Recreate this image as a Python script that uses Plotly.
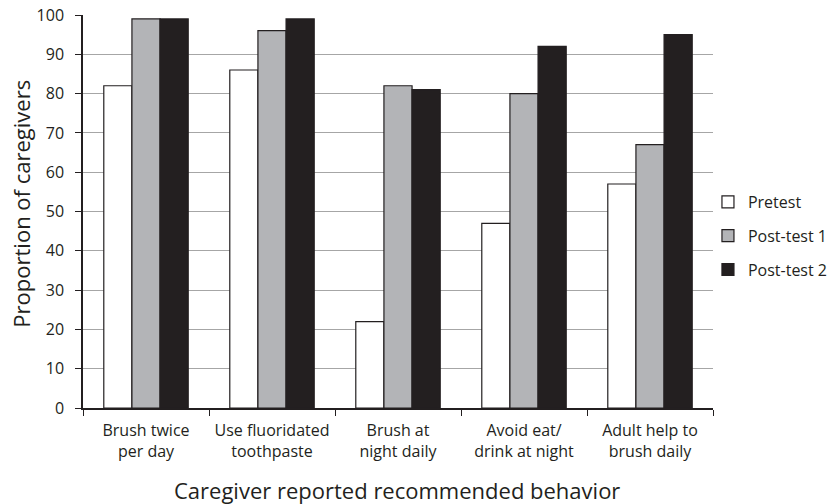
import plotly.graph_objects as go

categories = ["Brush twice<br>per day", "Use fluoridated<br>toothpaste", "Brush at<br>night daily",
              "Avoid eat/<br>drink at night", "Adult help to<br>brush daily"]
pretest = [82, 86, 22, 47, 57]
post1 = [99, 96, 82, 80, 67]
post2 = [99, 99, 81, 92, 95]
y_ticks = [0, 10, 20, 30, 40, 50, 60, 70, 80, 90, 100]

fig = go.Figure()
for name, vals, col in [("Pretest", pretest, "#ffffff"),
                        ("Post-test 1", post1, "#b3b4b7"),
                        ("Post-test 2", post2, "#231f20")]:
    fig.add_trace(go.Bar(x=categories, y=vals, name=name, legendgroup=name,
                         marker=dict(color=col, line=dict(color="#231f20", width=1.2))))

font_main = "'Open Sans', sans-serif"
fig.update_layout(
    width=830, height=504,
    margin=dict(l=83, r=117, t=15, b=96, autoexpand=False),
    plot_bgcolor="white", paper_bgcolor="white",
    barmode="group", bargap=0.33, bargroupgap=0,
    font=dict(family=font_main, color="#231f20", size=16),
    showlegend=True,
    legend=dict(x=0.992, y=0.4377, xanchor="left", yanchor="middle",
                font=dict(size=16), tracegroupgap=10, itemwidth=30,
                bgcolor="rgba(0,0,0,0)"),
    xaxis=dict(showline=True, linecolor="#231f20", linewidth=1.5, automargin=False,
               ticks="outside", tickson="boundaries", ticklen=6, tickcolor="#231f20",
               ticklabelstandoff=7, ticklabeloverflow="allow",
               tickfont=dict(size=16)),
    yaxis=dict(range=[0, 100], tickvals=y_ticks, showline=True, linecolor="#231f20", linewidth=1.5,
               automargin=False,
               ticks="outside", ticklen=6, tickcolor="#231f20", ticklabelstandoff=8,
               ticklabeloverflow="allow",
               showgrid=True, gridcolor="#a6a6a6", gridwidth=1,
               tickfont=dict(size=16)),
    annotations=[
        dict(text="Caregiver reported recommended behavior", xref="paper", yref="paper",
             x=0.498, y=-0.2087, xanchor="center", yanchor="middle", showarrow=False,
             font=dict(size=22)),
        dict(text="Proportion of caregivers", xref="paper", yref="paper",
             x=-0.0984, y=0.52, xanchor="center", yanchor="middle", showarrow=False,
             textangle=-90, font=dict(size=22)),
    ],
)

fig.write_html("out.html", config={"displayModeBar": False},
               post_script="document.body.style.margin='0';")
